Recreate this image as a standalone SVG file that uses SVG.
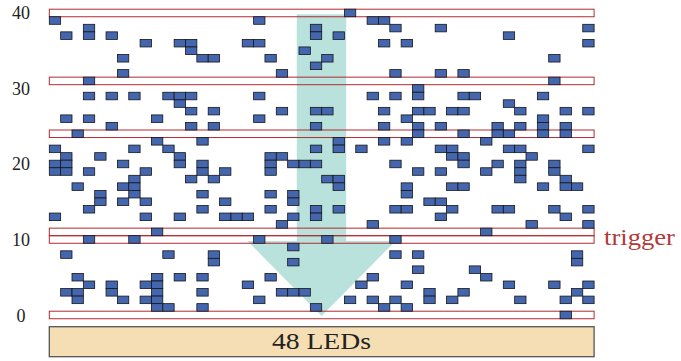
<svg xmlns="http://www.w3.org/2000/svg" xmlns:xlink="http://www.w3.org/1999/xlink" width="681" height="361" viewBox="0 0 681 361">
<style>
.s{fill:#4466ae;stroke:#161616;stroke-width:0.8}
.bar{fill:none;stroke:#b22a30;stroke-width:1}
.ax{font-family:"Liberation Serif",serif;font-size:18px;fill:#222;text-anchor:middle}
</style>
<defs>
<rect id="q" class="s" width="11.35" height="7.55"/>
</defs>
<rect width="681" height="361" fill="#fff"/>
<g id="arrow">
<polygon points="296.8,14.3 346.2,14.3 346.2,241 395.5,241 321.5,316 247.5,241 296.8,241" fill="#b9e2dc"/>
</g>
<g id="axis">
<text class="ax" x="21" y="19.3">40</text>
<text class="ax" x="21" y="94.8">30</text>
<text class="ax" x="21" y="170.3">20</text>
<text class="ax" x="21" y="246">10</text>
<text class="ax" x="21" y="321.5">0</text>
</g>
<g id="bars">
<rect class="bar" x="49.3" y="9.2" width="544.8" height="7.55"/>
<rect class="bar" x="49.3" y="77.15" width="544.8" height="7.55"/>
<rect class="bar" x="49.3" y="130" width="544.8" height="7.55"/>
<rect class="bar" x="49.3" y="228.15" width="544.8" height="7.55"/>
<rect class="bar" x="49.3" y="235.7" width="544.8" height="7.55"/>
<rect class="bar" x="49.3" y="311.2" width="544.8" height="7.55"/>
</g>
<g id="leds">
<g transform="translate(0,9.2)"><use href="#q" x="344.4"/></g>
<g transform="translate(0,16.75)"><use href="#q" x="49.3"/><use href="#q" x="253.6"/><use href="#q" x="367.1"/><use href="#q" x="378.45"/></g>
<g transform="translate(0,24.3)"><use href="#q" x="83.35"/><use href="#q" x="310.35"/><use href="#q" x="389.8"/><use href="#q" x="435.2"/><use href="#q" x="582.75"/></g>
<g transform="translate(0,31.85)"><use href="#q" x="60.65"/><use href="#q" x="83.35"/><use href="#q" x="106.05"/><use href="#q" x="310.35"/><use href="#q" x="333.05"/><use href="#q" x="503.3"/></g>
<g transform="translate(0,39.4)"><use href="#q" x="140.1"/><use href="#q" x="174.15"/><use href="#q" x="185.5"/><use href="#q" x="242.25"/><use href="#q" x="253.6"/><use href="#q" x="378.45"/><use href="#q" x="401.15"/><use href="#q" x="582.75"/></g>
<g transform="translate(0,46.95)"><use href="#q" x="185.5"/><use href="#q" x="299"/></g>
<g transform="translate(0,54.5)"><use href="#q" x="117.4"/><use href="#q" x="196.85"/><use href="#q" x="208.2"/><use href="#q" x="264.95"/><use href="#q" x="321.7"/><use href="#q" x="548.7"/></g>
<g transform="translate(0,62.05)"><use href="#q" x="310.35"/></g>
<g transform="translate(0,69.6)"><use href="#q" x="117.4"/><use href="#q" x="276.3"/><use href="#q" x="389.8"/><use href="#q" x="435.2"/><use href="#q" x="457.9"/></g>
<g transform="translate(0,77.15)"><use href="#q" x="83.35"/><use href="#q" x="548.7"/></g>
<g transform="translate(0,84.7)"><use href="#q" x="412.5"/></g>
<g transform="translate(0,92.25)"><use href="#q" x="83.35"/><use href="#q" x="106.05"/><use href="#q" x="128.75"/><use href="#q" x="162.8"/><use href="#q" x="174.15"/><use href="#q" x="185.5"/><use href="#q" x="253.6"/><use href="#q" x="367.1"/><use href="#q" x="389.8"/><use href="#q" x="412.5"/><use href="#q" x="457.9"/><use href="#q" x="469.25"/><use href="#q" x="537.35"/></g>
<g transform="translate(0,99.8)"><use href="#q" x="174.15"/><use href="#q" x="503.3"/></g>
<g transform="translate(0,107.35)"><use href="#q" x="185.5"/><use href="#q" x="208.2"/><use href="#q" x="276.3"/><use href="#q" x="310.35"/><use href="#q" x="321.7"/><use href="#q" x="378.45"/><use href="#q" x="412.5"/><use href="#q" x="423.85"/><use href="#q" x="446.55"/><use href="#q" x="457.9"/><use href="#q" x="514.65"/><use href="#q" x="560.05"/><use href="#q" x="582.75"/></g>
<g transform="translate(0,114.9)"><use href="#q" x="60.65"/><use href="#q" x="83.35"/><use href="#q" x="151.45"/><use href="#q" x="253.6"/><use href="#q" x="401.15"/><use href="#q" x="537.35"/></g>
<g transform="translate(0,122.45)"><use href="#q" x="106.05"/><use href="#q" x="185.5"/><use href="#q" x="208.2"/><use href="#q" x="310.35"/><use href="#q" x="378.45"/><use href="#q" x="412.5"/><use href="#q" x="435.2"/><use href="#q" x="491.95"/><use href="#q" x="514.65"/><use href="#q" x="537.35"/><use href="#q" x="560.05"/></g>
<g transform="translate(0,130)"><use href="#q" x="72"/><use href="#q" x="412.5"/><use href="#q" x="457.9"/><use href="#q" x="491.95"/><use href="#q" x="503.3"/><use href="#q" x="537.35"/><use href="#q" x="560.05"/></g>
<g transform="translate(0,137.55)"><use href="#q" x="151.45"/><use href="#q" x="196.85"/><use href="#q" x="333.05"/><use href="#q" x="378.45"/><use href="#q" x="401.15"/><use href="#q" x="480.6"/></g>
<g transform="translate(0,145.1)"><use href="#q" x="49.3"/><use href="#q" x="128.75"/><use href="#q" x="162.8"/><use href="#q" x="310.35"/><use href="#q" x="333.05"/><use href="#q" x="355.75"/><use href="#q" x="435.2"/><use href="#q" x="446.55"/><use href="#q" x="503.3"/><use href="#q" x="514.65"/><use href="#q" x="582.75"/></g>
<g transform="translate(0,152.65)"><use href="#q" x="60.65"/><use href="#q" x="94.7"/><use href="#q" x="174.15"/><use href="#q" x="264.95"/><use href="#q" x="276.3"/><use href="#q" x="446.55"/><use href="#q" x="457.9"/><use href="#q" x="526"/></g>
<g transform="translate(0,160.2)"><use href="#q" x="49.3"/><use href="#q" x="60.65"/><use href="#q" x="117.4"/><use href="#q" x="174.15"/><use href="#q" x="196.85"/><use href="#q" x="264.95"/><use href="#q" x="287.65"/><use href="#q" x="299"/><use href="#q" x="310.35"/><use href="#q" x="389.8"/><use href="#q" x="457.9"/><use href="#q" x="491.95"/><use href="#q" x="514.65"/><use href="#q" x="548.7"/></g>
<g transform="translate(0,167.75)"><use href="#q" x="49.3"/><use href="#q" x="60.65"/><use href="#q" x="83.35"/><use href="#q" x="140.1"/><use href="#q" x="196.85"/><use href="#q" x="219.55"/><use href="#q" x="264.95"/><use href="#q" x="412.5"/><use href="#q" x="435.2"/><use href="#q" x="480.6"/><use href="#q" x="514.65"/><use href="#q" x="548.7"/></g>
<g transform="translate(0,175.3)"><use href="#q" x="128.75"/><use href="#q" x="185.5"/><use href="#q" x="208.2"/><use href="#q" x="321.7"/><use href="#q" x="333.05"/><use href="#q" x="514.65"/><use href="#q" x="560.05"/></g>
<g transform="translate(0,182.85)"><use href="#q" x="72"/><use href="#q" x="117.4"/><use href="#q" x="128.75"/><use href="#q" x="333.05"/><use href="#q" x="401.15"/><use href="#q" x="446.55"/><use href="#q" x="457.9"/><use href="#q" x="537.35"/><use href="#q" x="560.05"/><use href="#q" x="571.4"/></g>
<g transform="translate(0,190.4)"><use href="#q" x="94.7"/><use href="#q" x="128.75"/><use href="#q" x="196.85"/><use href="#q" x="264.95"/><use href="#q" x="287.65"/><use href="#q" x="401.15"/></g>
<g transform="translate(0,197.95)"><use href="#q" x="94.7"/><use href="#q" x="117.4"/><use href="#q" x="140.1"/><use href="#q" x="219.55"/><use href="#q" x="287.65"/><use href="#q" x="423.85"/><use href="#q" x="435.2"/></g>
<g transform="translate(0,205.5)"><use href="#q" x="83.35"/><use href="#q" x="196.85"/><use href="#q" x="264.95"/><use href="#q" x="310.35"/><use href="#q" x="333.05"/><use href="#q" x="389.8"/><use href="#q" x="401.15"/><use href="#q" x="446.55"/><use href="#q" x="491.95"/><use href="#q" x="503.3"/><use href="#q" x="548.7"/><use href="#q" x="582.75"/></g>
<g transform="translate(0,213.05)"><use href="#q" x="49.3"/><use href="#q" x="140.1"/><use href="#q" x="174.15"/><use href="#q" x="219.55"/><use href="#q" x="230.9"/><use href="#q" x="242.25"/><use href="#q" x="287.65"/><use href="#q" x="310.35"/><use href="#q" x="435.2"/><use href="#q" x="560.05"/></g>
<g transform="translate(0,220.6)"><use href="#q" x="276.3"/><use href="#q" x="367.1"/><use href="#q" x="526"/><use href="#q" x="582.75"/></g>
<g transform="translate(0,228.15)"><use href="#q" x="151.45"/><use href="#q" x="480.6"/></g>
<g transform="translate(0,235.7)"><use href="#q" x="83.35"/><use href="#q" x="128.75"/><use href="#q" x="253.6"/><use href="#q" x="321.7"/><use href="#q" x="389.8"/></g>
<g transform="translate(0,243.25)"><use href="#q" x="287.65"/></g>
<g transform="translate(0,250.8)"><use href="#q" x="60.65"/><use href="#q" x="162.8"/><use href="#q" x="208.2"/><use href="#q" x="389.8"/><use href="#q" x="412.5"/><use href="#q" x="571.4"/></g>
<g transform="translate(0,258.35)"><use href="#q" x="208.2"/><use href="#q" x="287.65"/><use href="#q" x="571.4"/></g>
<g transform="translate(0,265.9)"><use href="#q" x="412.5"/><use href="#q" x="469.25"/></g>
<g transform="translate(0,273.45)"><use href="#q" x="72"/><use href="#q" x="151.45"/><use href="#q" x="174.15"/><use href="#q" x="196.85"/><use href="#q" x="264.95"/><use href="#q" x="367.1"/><use href="#q" x="480.6"/></g>
<g transform="translate(0,281)"><use href="#q" x="83.35"/><use href="#q" x="106.05"/><use href="#q" x="140.1"/><use href="#q" x="151.45"/><use href="#q" x="242.25"/><use href="#q" x="355.75"/><use href="#q" x="401.15"/><use href="#q" x="503.3"/><use href="#q" x="548.7"/><use href="#q" x="582.75"/></g>
<g transform="translate(0,288.55)"><use href="#q" x="60.65"/><use href="#q" x="72"/><use href="#q" x="106.05"/><use href="#q" x="151.45"/><use href="#q" x="196.85"/><use href="#q" x="276.3"/><use href="#q" x="287.65"/><use href="#q" x="299"/><use href="#q" x="423.85"/><use href="#q" x="457.9"/><use href="#q" x="571.4"/></g>
<g transform="translate(0,296.1)"><use href="#q" x="72"/><use href="#q" x="117.4"/><use href="#q" x="140.1"/><use href="#q" x="151.45"/><use href="#q" x="253.6"/><use href="#q" x="344.4"/><use href="#q" x="367.1"/><use href="#q" x="389.8"/><use href="#q" x="423.85"/><use href="#q" x="446.55"/><use href="#q" x="514.65"/><use href="#q" x="560.05"/><use href="#q" x="582.75"/></g>
<g transform="translate(0,303.65)"><use href="#q" x="151.45"/><use href="#q" x="162.8"/><use href="#q" x="196.85"/><use href="#q" x="310.35"/><use href="#q" x="378.45"/><use href="#q" x="401.15"/></g>
<g transform="translate(0,311.2)"><use href="#q" x="560.05"/></g>
</g>
<g id="trigger-label">
<text x="604" y="244.5" font-family="'Liberation Serif',serif" font-size="24" fill="#b03a3a" textLength="71" lengthAdjust="spacingAndGlyphs">trigger</text>
</g>
<g id="leds-box">
<rect x="49.3" y="326.7" width="544.8" height="30" fill="#f5deb3" stroke="#555" stroke-width="1.3"/>
<text x="321.4" y="349.3" font-family="'Liberation Serif',serif" font-size="24" fill="#222" text-anchor="middle" textLength="99" lengthAdjust="spacingAndGlyphs">48 LEDs</text>
</g>
</svg>
